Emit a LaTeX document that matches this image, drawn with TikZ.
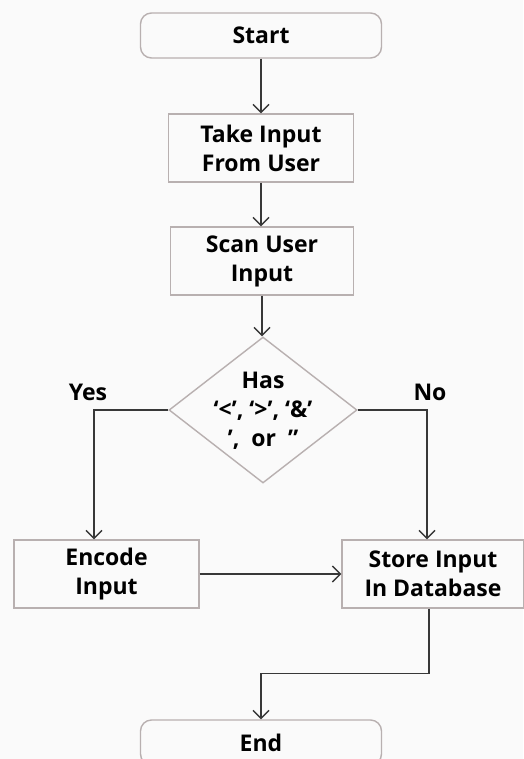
\documentclass[tikz,border=0pt]{standalone}
\usepackage{fontspec}
\setmainfont{Open Sans}
\usetikzlibrary{arrows.meta,shapes.geometric}
\definecolor{boxline}{HTML}{B8B0B0}
\definecolor{conn}{HTML}{383838}
\definecolor{bg}{HTML}{FAFAFA}
\begin{document}
\begin{tikzpicture}[x=1pt,y=-1pt,
  txt/.style={font=\fontsize{23}{29}\selectfont\bfseries, align=center, text=black},
  term/.style={txt, draw=boxline, line width=1.4pt, rounded corners=11pt, minimum width=241pt, minimum height=45pt, inner sep=0pt},
  proc/.style={txt, draw=boxline, line width=1.4pt, minimum height=68pt, inner sep=0pt},
  dia/.style={draw=boxline, line width=1.4pt, diamond, minimum width=188pt, minimum height=146pt, inner sep=0pt},
  arr/.style={draw=conn, line width=1.4pt, -{Straight Barb[length=8pt,width=16pt]}}]
\fill[bg] (0,0) rectangle (523,759);
\useasboundingbox (0,0) rectangle (523,759);
\node[term] (start) at (261,35.5) {Start};
\node[proc, minimum width=185pt] (take) at (261,148) {Take Input\\From User};
\node[proc, minimum width=183pt] (scan) at (262,261) {Scan User\\Input};
\node[dia] (dec) at (263,410) {};
\node[txt] (dect) at (263,411) {Has\\‘<’, ‘>’, ‘\&’\\’,~~or~~”};
\node[proc, minimum width=185pt] (enc) at (106.5,574) {Encode\\Input};
\node[proc, minimum width=182pt] (store) at (433,574) {Store Input\\In Database};
\node[term] (end) at (261,742.5) {End};
\node[txt] (yes) at (88,392) {Yes};
\node[txt] (no) at (430,392) {No};
\draw[arr] (start) -- (take);
\draw[arr] (take) -- (take |- scan.north);
\draw[arr] (scan) -- (scan |- dec.north);
\draw[arr] (dec.west) -| ([xshift=-12.5pt]enc.north);
\draw[arr] (dec.east) -| ([xshift=-6pt]store.north);
\draw[arr] (enc.east) -- (store.west);
\draw[arr] ([xshift=-4pt]store.south) -- ++(0,65) -| (end.north);
\end{tikzpicture}
\end{document}
